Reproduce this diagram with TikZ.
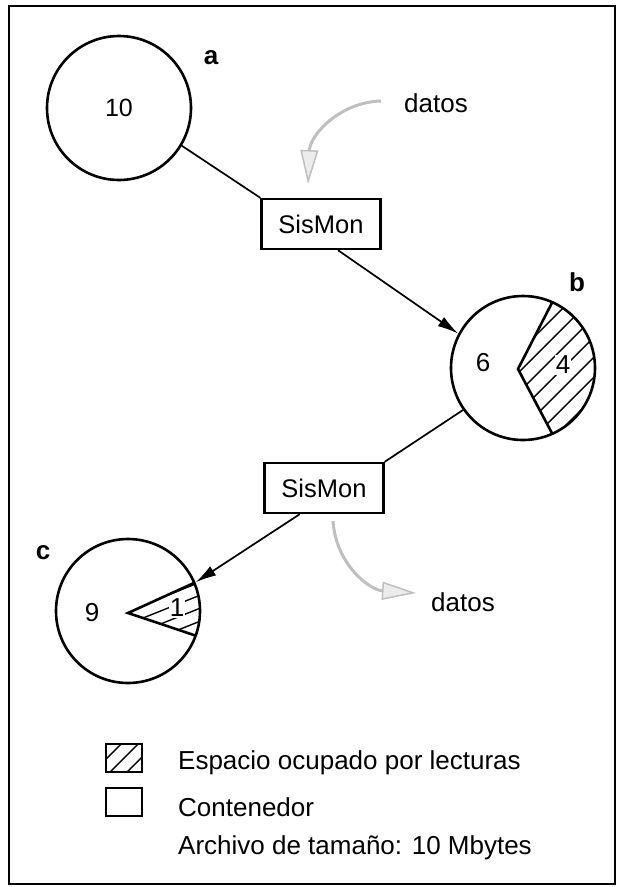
\documentclass[tikz,border=0pt]{standalone}
\usepackage{fontspec}
\setmainfont{Liberation Sans}
\usetikzlibrary{arrows.meta,calc}
\begin{document}
\begin{tikzpicture}[x=1pt,y=-1pt,
  txt/.style={font=\fontsize{26}{31}\selectfont, inner sep=0pt},
  lbl/.style={font=\fontsize{26}{31}\selectfont\bfseries, inner sep=0pt},
  disk/.style={circle, draw, line width=2.6pt, minimum size=144pt, inner sep=0pt, font=\fontsize{25}{30}\selectfont},
  proc/.style={draw, line width=2.4pt, minimum width=119pt, minimum height=50pt, inner sep=0pt, font=\fontsize{25.5}{30}\selectfont},
  conn/.style={line width=1.7pt},
  arr/.style={conn, -{Latex[length=21pt,width=11pt]}},
  feed/.style={draw=gray!50, line width=3pt, -{Triangle[length=34pt, width=18pt, fill=gray!15, line width=1.5pt]}},
  hatch/.style={line width=1.4pt},
  edge/.style={line width=2.6pt, line join=miter},
  legbox/.style={draw, line width=1.5pt, minimum width=36pt, minimum height=28pt, inner sep=0pt}
]
\useasboundingbox (0,0) rectangle (623,887);
\draw[line width=1.3pt] (9,6) rectangle (615,884);

% nodes
\node[disk] (a) at (119,108) {10};
\node[lbl] (la) at (211,58) {a};
\node[proc] (s1) at (321,224) {SisMon};
\node[disk] (b) at (523,368) {};
\node[lbl] (lb) at (577,282) {b};
\node[proc] (s2) at (324,488) {SisMon};
\node[disk] (c) at (128,611) {};
\node[lbl] (lc) at (43,553) {c};

% wedge b
\coordinate (bv) at (518,369);
\begin{scope}
  \clip (bv) -- ($(b.center)+(-66:72)$) arc[start angle=-66,end angle=66,radius=72] -- cycle;
  \foreach \k in {-6,...,6} \draw[hatch] ($(b.center)+(\k*20-100,100)$) -- ++(200,-200);
\end{scope}
\draw[edge] ($(b.center)+(-66:72)$) -- (bv) -- ($(b.center)+(66:72)$);
\node[txt] (n6) at (483,363) {6};
\node[txt, fill=white, inner sep=1pt] (n4) at (563,365) {4};

% wedge c
\coordinate (cv) at (128,613);
\begin{scope}
  \clip (cv) -- ($(c.center)+(-23:71)$) arc[start angle=-23,end angle=20,radius=71] -- cycle;
  \foreach \k in {-5,...,5} \draw[hatch] ($(c.center)+(-100,\k*13+40)$) -- ++(200,-80);
\end{scope}
\draw[edge] ($(c.center)+(-23:71)$) -- (cv) -- ($(c.center)+(20:71)$);
\node[txt] (n9) at (92,613) {9};
\node[txt, fill=white, inner sep=1pt] (n1) at (177,608) {1};

% connectors
\draw[conn] (a.-31) -- (s1.north west);
\draw[arr] ($(s1.south west)!0.64!(s1.south east)$) -- (b.152);
\draw[conn] (b.215) -- (s2.north east);
\draw[arr] ($(s2.south west)!0.3!(s2.south east)$) -- (c.23);

% datos arrows
\node[txt, anchor=west] (d1) at (404,103) {datos};
\coordinate (d1s) at (381,101);
\coordinate (d1e) at (308,184);
\draw[feed] (d1s) .. controls (340,102) and (310,135) .. (d1e);
\node[txt, anchor=west] (d2) at (431,602) {datos};
\coordinate (d2s) at (333,521);
\coordinate (d2e) at (416,593);
\draw[feed] (d2s) .. controls (336,565) and (370,590) .. (d2e);

% legend
\node[legbox] (lh) at (124,758) {};
\begin{scope}
  \clip (lh.south west) rectangle (lh.north east);
  \foreach \k in {-2,...,2} \draw[hatch] ($(lh.center)+(\k*17-30,30)$) -- ++(60,-60);
\end{scope}
\node[legbox] (le) at (124,802) {};
\node[txt, anchor=west] (t1) at (178,763) {Espacio ocupado por lecturas};
\node[txt, anchor=west] (t2) at (178,807) {Contenedor};
\node[txt, anchor=west] (t3) at (178,848) {Archivo de tamaño: 10 Mbytes};
\end{tikzpicture}
\end{document}
